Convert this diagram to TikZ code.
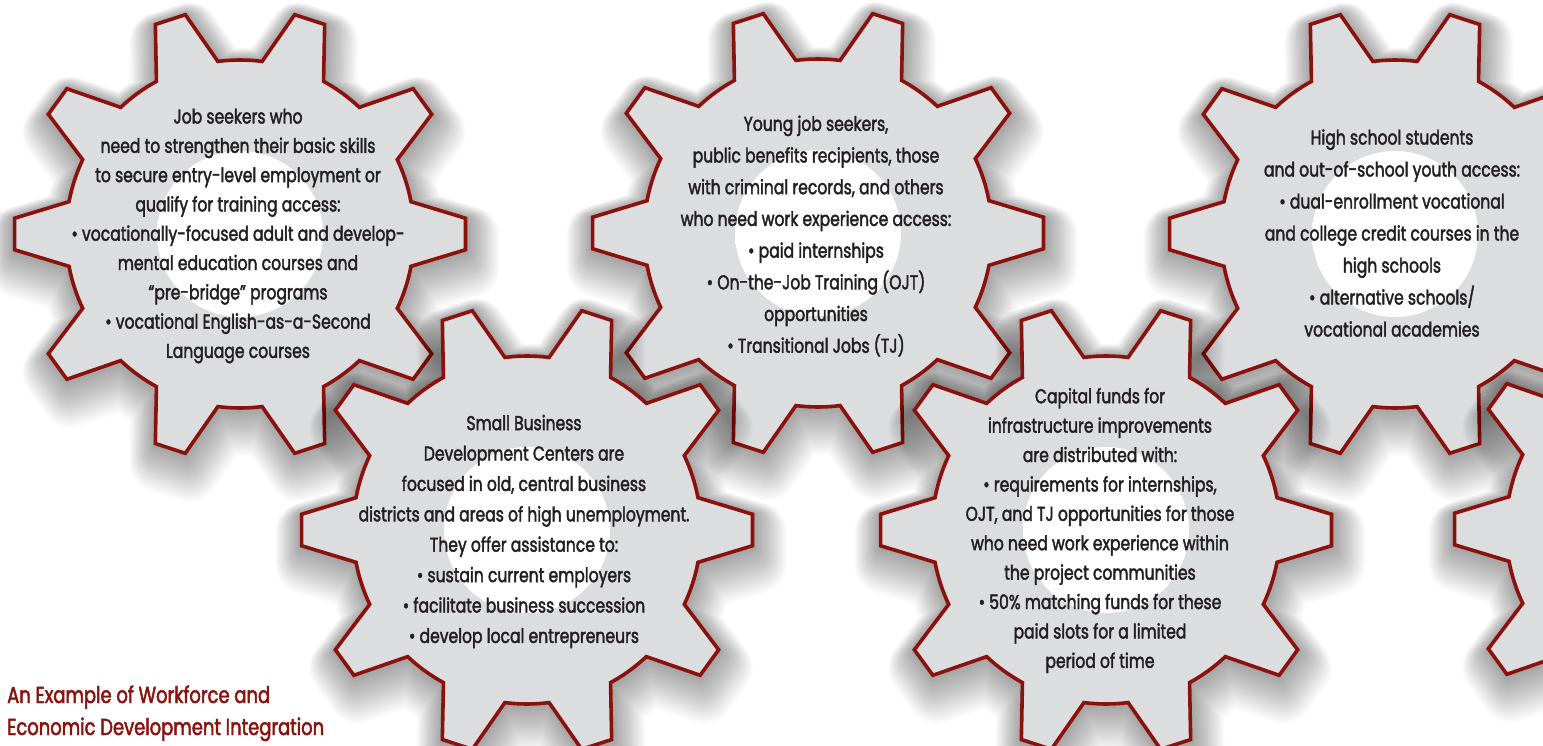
\documentclass[tikz,border=0pt]{standalone}
\usepackage{fontspec}
\setmainfont{Poppins}[FakeStretch=0.78, FakeBold=2]

\definecolor{gearred}{RGB}{138,17,12}
\definecolor{gearfill}{RGB}{220,221,223}
\definecolor{inktext}{RGB}{35,31,32}

% soft white disc in the middle of every gear
\pgfdeclareradialshading{gearglow}{\pgfpoint{0bp}{0bp}}{%
  color(0bp)=(white); color(46bp)=(white); color(50bp)=(gearfill)}

% outline of a ten-tooth gear: root radius 174, tip radius 226
\def\gearpath{(-10.7:174)
  \foreach \a in {0,36,...,324}{
    -- ({\a-4}:226) -- ({\a+4}:226) -- ({\a+10.7}:174)
    arc[start angle={\a+10.7}, end angle={\a+25.3}, radius=174]
  } -- cycle}

\tikzset{
  gearbody/.style={fill=gearfill, draw=gearred, line width=3.6pt, line join=miter},
  shadowlayer/.style={draw=black, draw opacity=0.018, line join=round},
  pics/gear/.style={code={
    % soft drop shadow: widening strokes, each moved a little further down
    \foreach \k in {1,...,20}{
      \pgfmathsetmacro\lw{3*\k}
      \path[shadowlayer, line width=\lw pt, shift={(0.2*\k,0.9*\k)}] \gearpath;
    }
    \path[gearbody] \gearpath;
    \shade[shading=gearglow] (0,0) circle (83);
  }},
  gtext/.style={align=center, text=inktext, inner sep=0pt},
  headline/.style={align=left, text=gearred, inner sep=0pt,
    font=\fontsize{23}{32}\selectfont}
}

\begin{document}
\begin{tikzpicture}[x=1pt, y=-1pt]
  \useasboundingbox (0,0) rectangle (1543,746);
  \fill[white] (0,0) rectangle (1543,746);
  \clip (0,0) rectangle (1543,746);

  \coordinate (g1) at (240,234);
  \coordinate (g2) at (818,233);
  \coordinate (g3) at (1395,234);
  \coordinate (g4) at (527,530);
  \coordinate (g5) at (1106,530);
  \coordinate (g6) at (1680,529);

  % back row of gears
  \pic at (g1) {gear};
  \pic at (g2) {gear};
  \pic at (g3) {gear};
  % front row of gears
  \pic at (g4) {gear};
  \pic at (g5) {gear};
  \pic at (g6) {gear};

  \node[gtext, font=\fontsize{20}{29.3}\selectfont] (t1) at (238,236)
    {Job seekers who\\
     need to strengthen their basic skills\\
     to secure entry-level employment or\\
     qualify for training access:\\
     • vocationally-focused adult and develop-\\
     mental education courses and\\
     “pre-bridge” programs\\
     • vocational English-as-a-Second\\
     Language courses};

  \node[gtext, font=\fontsize{20}{31.7}\selectfont] (t2) at (816,236)
    {Young job seekers,\\
     public benefits recipients, those\\
     with criminal records, and others\\
     who need work experience access:\\
     • paid internships\\
     • On-the-Job Training (OJT)\\
     opportunities\\
     • Transitional Jobs (TJ)};

  \node[gtext, font=\fontsize{20}{32}\selectfont] (t3) at (1392,233)
    {High school students\\
     and out-of-school youth access:\\
     • dual-enrollment vocational\\
     and college credit courses in the\\
     high schools\\
     • alternative schools/\\
     vocational academies};

  \node[gtext, font=\fontsize{20}{30.4}\selectfont] (t4) at (524,531.5)
    {Small Business\\
     Development Centers are\\
     focused in old, central business\\
     districts and areas of high unemployment.\\
     They offer assistance to:\\
     • sustain current employers\\
     • facilitate business succession\\
     • develop local entrepreneurs};

  \node[gtext, font=\fontsize{20}{29.4}\selectfont] (t5) at (1100,530.5)
    {Capital funds for\\
     infrastructure improvements\\
     are distributed with:\\
     • requirements for internships,\\
     OJT, and TJ opportunities for those\\
     who need work experience within\\
     the project communities\\
     • 50\% matching funds for these\\
     paid slots for a limited\\
     period of time};

  \node[headline, anchor=base west] (title) at (7,735)
    {An Example of Workforce and\\Economic Development Integration};
\end{tikzpicture}
\end{document}
